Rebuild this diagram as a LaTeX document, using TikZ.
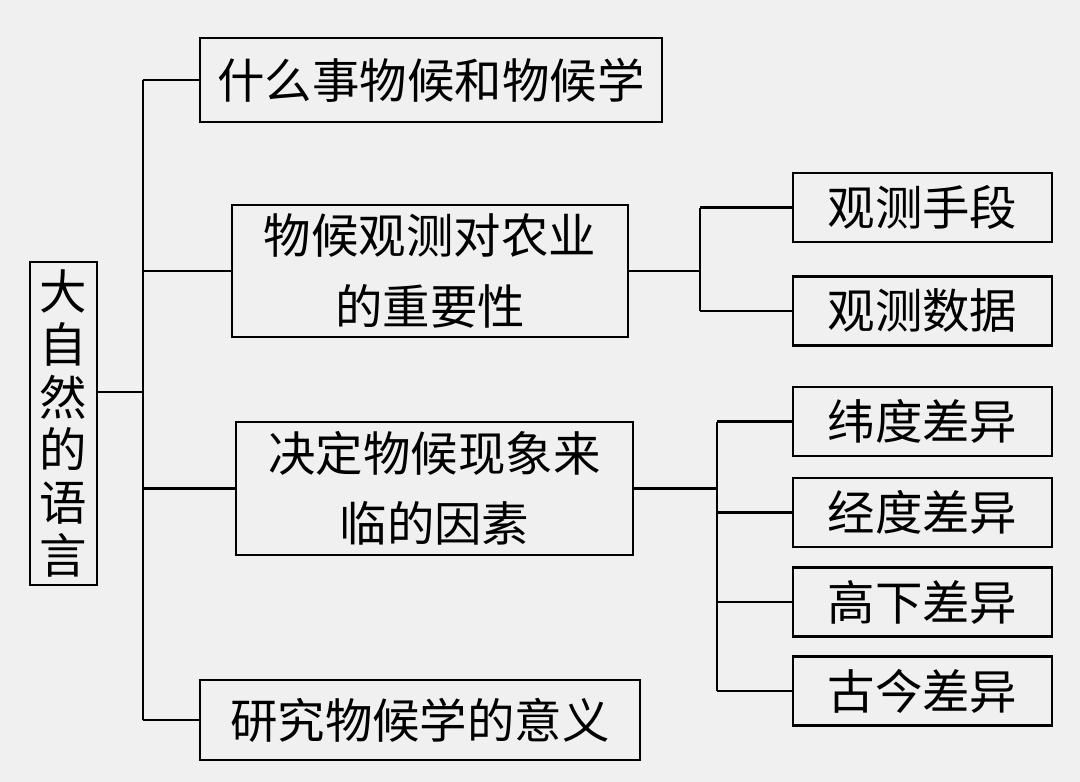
\documentclass[tikz,border=0pt]{standalone}
\usepackage{fontspec}
\newfontfamily\cjk{Noto Sans CJK SC}
\begin{document}
\begin{tikzpicture}[x=0.02cm,y=-0.02cm,
  bx/.style={draw,line width=1.3pt,inner sep=0pt,font=\cjk\fontsize{27}{40}\selectfont,align=center},
  ln/.style={line width=1.3pt}]
\fill[black!6] (0,0) rectangle (1080,782);
\useasboundingbox (0,0) rectangle (1080,782);
\node[bx,minimum width=1.34cm,minimum height=6.46cm,font=\cjk\fontsize{27}{30}\selectfont,align=center] (root) at (63.5,423.5) {大\\自\\然\\的\\语\\言};
\node[bx,minimum width=9.24cm,minimum height=1.68cm] (b1) at (431,80) {什么事物候和物候学};
\node[bx,minimum width=7.92cm,minimum height=2.64cm] (b2) at (430,271) {物候观测对农业\\的重要性};
\node[bx,minimum width=7.94cm,minimum height=2.66cm] (b3) at (434.5,488.5) {决定物候现象来\\临的因素};
\node[bx,minimum width=8.8cm,minimum height=1.6cm] (b4) at (420,720) {研究物候学的意义};
\foreach \n/\t/\y in {c1/观测手段/207.5,c2/观测数据/311,d1/纬度差异/421.5,d2/经度差异/512.5,d3/高下差异/602,d4/古今差异/691}
  \node[bx,minimum width=5.18cm,minimum height=1.38cm] (\n) at (922.5,\y) {\t};
\coordinate (s) at (143,392);
\draw[ln] (s -| root.east) -- (s);
\draw[ln] (b1.west -| s) -- (b4.west -| s);
\foreach \b in {b1,b2,b3,b4} \draw[ln] (\b.west -| s) -- (\b.west);
\coordinate (t) at (700,0);
\draw[ln] (b2.east) -- (b2.east -| t);
\draw[ln] (c1.west -| t) -- (c2.west -| t);
\foreach \b in {c1,c2} \draw[ln] (\b.west -| t) -- (\b.west);
\coordinate (u) at (717,0);
\draw[ln] (b3.east) -- (b3.east -| u);
\draw[ln] (d1.west -| u) -- (d4.west -| u);
\foreach \b in {d1,d2,d3,d4} \draw[ln] (\b.west -| u) -- (\b.west);
\end{tikzpicture}
\end{document}
